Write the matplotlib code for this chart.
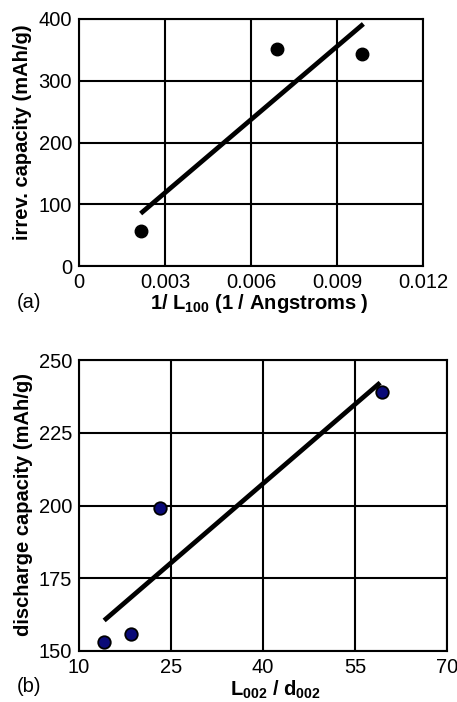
import matplotlib
matplotlib.use("Agg")
import matplotlib.pyplot as plt

plt.rcParams['font.family'] = ['Liberation Sans', 'DejaVu Sans']
plt.rcParams['mathtext.fontset'] = 'custom'
plt.rcParams['mathtext.rm'] = 'Liberation Sans'
plt.rcParams['mathtext.bf'] = 'Liberation Sans:bold'

# (a) irreversible capacity vs 1/L100
inv_l100 = [0.00215, 0.00692, 0.00988]
irrev_cap = [56, 351, 344]
fit_a_x = [0.00215, 0.00992]
fit_a_y = [85, 392]
xticks_a = [0, 0.003, 0.006, 0.009, 0.012]
xticklabels_a = ['0', '0.003', '0.006', '0.009', '0.012']
yticks_a = [0, 100, 200, 300, 400]

# (b) discharge capacity vs L002/d002
l_over_d = [14.1, 18.5, 23.2, 59.4]
disch_cap = [153.2, 156.0, 199.0, 239.0]
fit_b_x = [14.1, 59.1]
fit_b_y = [160.5, 242.2]
xticks_b = [10, 25, 40, 55, 70]
yticks_b = [150, 175, 200, 225, 250]

FS = 14.5

fig = plt.figure(figsize=(4.57, 7.02), dpi=100)
W, H = 457, 702

ax1 = fig.add_axes([79 / W, 1 - 266 / H, 344 / W, 247 / H])
ax2 = fig.add_axes([79 / W, 1 - 651 / H, 368 / W, 291 / H])

ax1.plot(fit_a_x, fit_a_y, color='black', lw=3.4, solid_capstyle='butt', zorder=3)
ax1.plot(inv_l100, irrev_cap, 'o', color='black', ms=9, zorder=4)
ax1.set_xlim(0, 0.012)
ax1.set_ylim(0, 400)
ax1.set_xticks(xticks_a)
ax1.set_xticklabels(xticklabels_a)
ax1.set_yticks(yticks_a)
ax1.text(0.525, -0.152, r'1/ $\mathbf{L_{100}}$ (1 / Angstroms )', fontsize=FS,
         fontweight='bold', ha='center', va='center', transform=ax1.transAxes)
ax1.text(-0.163, 0.54, 'irrev. capacity (mAh/g)', fontsize=FS, fontweight='bold',
         ha='center', va='center', rotation=90, transform=ax1.transAxes)

ax2.plot(fit_b_x, fit_b_y, color='black', lw=3.4, solid_capstyle='butt', zorder=3)
ax2.plot(l_over_d, disch_cap, 'o', color='#0a0a78', mec='black', mew=1.3,
         ms=9, zorder=4)
ax2.set_xlim(10, 70)
ax2.set_ylim(150, 250)
ax2.set_xticks(xticks_b)
ax2.set_yticks(yticks_b)
ax2.text(0.533, -0.132, r'$\mathbf{L_{002}}$ / $\mathbf{d_{002}}$', fontsize=FS,
         fontweight='bold', ha='center', va='center', transform=ax2.transAxes)
ax2.text(-0.152, 0.505, 'discharge capacity (mAh/g)', fontsize=FS,
         fontweight='bold', ha='center', va='center', rotation=90,
         transform=ax2.transAxes)

for ax in (ax1, ax2):
    ax.grid(True, color='black', lw=1.5)
    ax.set_axisbelow(True)
    ax.tick_params(length=0, labelsize=FS, pad=5)
    for s in ax.spines.values():
        s.set_linewidth(1.5)

fig.text(17 / W, 1 - 303 / H, '(a)', fontsize=FS, va='center', ha='left')
fig.text(17 / W, 1 - 686 / H, '(b)', fontsize=FS, va='center', ha='left')

fig.savefig('out.png', dpi=100)
